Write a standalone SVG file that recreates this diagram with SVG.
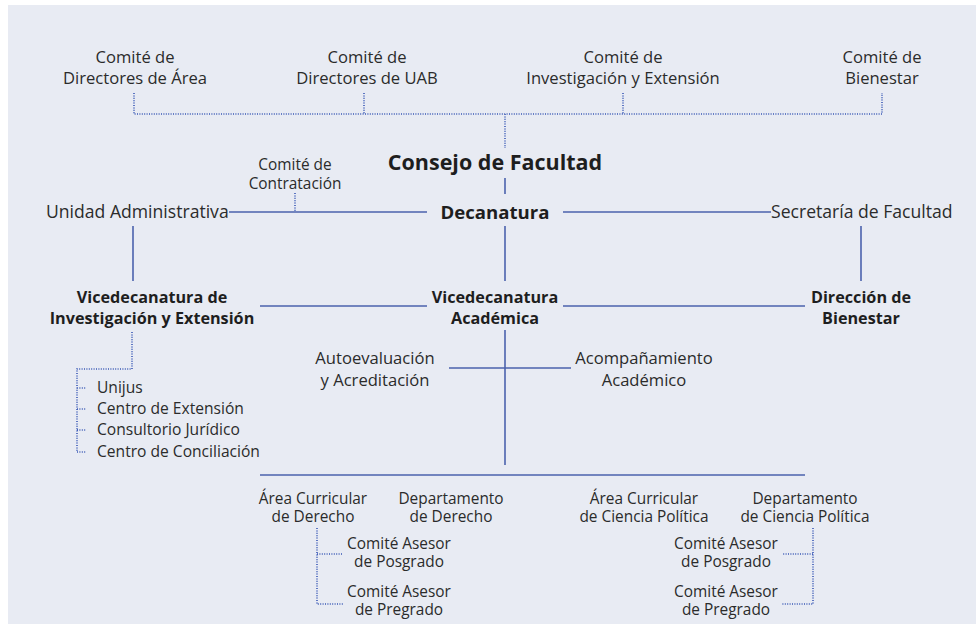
<svg xmlns="http://www.w3.org/2000/svg" width="976" height="624" viewBox="0 0 976 624">
<style>
.t{font-family:"Open Sans","Noto Sans","DejaVu Sans",sans-serif;font-size:16.6px;fill:#2b2b2b;}
.s{font-size:15.4px;}
.b{font-family:"Open Sans","Noto Sans","DejaVu Sans",sans-serif;font-weight:bold;font-size:16.2px;fill:#1e1e1e;}
.bb{font-size:21.5px;}
.c{text-anchor:middle;}
.ln{stroke:#4b63ad;stroke-width:1.6;fill:none;}
.dt{stroke:#3a59b6;stroke-width:1.6;stroke-dasharray:1 1.4;fill:none;}
</style>
<rect x="0" y="0" width="976" height="624" fill="#ffffff"/>
<rect x="8" y="5" width="968" height="619" fill="#e8ebf3"/>
<g id="connectors">
<path class="dt" d="M134 93V114H882V93M364 93V114M623 93V114M505 114V148"/>
<path class="ln" d="M505 178V194M505 226V281M229 212H427M563 212H771M133 226V281M861 226V281M260 306H427M563 306H805M505 330V465M449 368H571M260 475H805"/>
<path class="dt" d="M295 193V212"/>
<path class="dt" d="M132 332V369H77V452M77 388H86M77 409H86M77 430H86M77 452H86"/>
<path class="dt" d="M317 528V604H343M317 554H343"/>
<path class="dt" d="M813 528V604H782M813 554H782"/>
</g>
<g id="comite-directores-area"><text class="t c" x="135" y="63"><tspan x="135">Comité de</tspan><tspan x="135" dy="21">Directores de Área</tspan></text></g>
<g id="comite-directores-uab"><text class="t c" x="367" y="63"><tspan x="367">Comité de</tspan><tspan x="367" dy="21">Directores de UAB</tspan></text></g>
<g id="comite-investigacion"><text class="t c" x="623" y="63"><tspan x="623">Comité de</tspan><tspan x="623" dy="21">Investigación y Extensión</tspan></text></g>
<g id="comite-bienestar"><text class="t c" x="882" y="63"><tspan x="882">Comité de</tspan><tspan x="882" dy="21">Bienestar</tspan></text></g>
<g id="consejo"><text class="b bb c" x="495" y="170">Consejo de Facultad</text></g>
<g id="comite-contratacion"><text class="t s c" x="295" y="170"><tspan x="295">Comité de</tspan><tspan x="295" dy="19">Contratación</tspan></text></g>
<g id="unidad-administrativa"><text class="t" x="46" y="218" style="font-size:17.6px">Unidad Administrativa</text></g>
<g id="decanatura"><text class="b c" x="495" y="219" style="font-size:18.6px">Decanatura</text></g>
<g id="secretaria"><text class="t" x="771" y="218" style="font-size:17.6px">Secretaría de Facultad</text></g>
<g id="vice-investigacion"><text class="b c" x="152" y="303"><tspan x="152">Vicedecanatura de</tspan><tspan x="152" dy="21">Investigación y Extensión</tspan></text></g>
<g id="vice-academica"><text class="b c" x="495" y="303"><tspan x="495">Vicedecanatura</tspan><tspan x="495" dy="21">Académica</tspan></text></g>
<g id="direccion-bienestar"><text class="b c" x="861" y="303"><tspan x="861">Dirección de</tspan><tspan x="861" dy="21">Bienestar</tspan></text></g>
<g id="unijus"><text class="t" x="97" y="393" style="font-size:15.6px">Unijus</text></g>
<g id="centro-extension"><text class="t" x="97" y="414" style="font-size:15.6px">Centro de Extensión</text></g>
<g id="consultorio"><text class="t" x="97" y="435" style="font-size:15.6px">Consultorio Jurídico</text></g>
<g id="centro-conciliacion"><text class="t" x="97" y="457" style="font-size:15.6px">Centro de Conciliación</text></g>
<g id="autoevaluacion"><text class="t c" x="375" y="364"><tspan x="375">Autoevaluación</tspan><tspan x="375" dy="22">y Acreditación</tspan></text></g>
<g id="acompanamiento"><text class="t c" x="644" y="364"><tspan x="644">Acompañamiento</tspan><tspan x="644" dy="22">Académico</tspan></text></g>
<g id="area-derecho"><text class="t s c" x="313" y="504"><tspan x="313">Área Curricular</tspan><tspan x="313" dy="18">de Derecho</tspan></text></g>
<g id="depto-derecho"><text class="t s c" x="451" y="504"><tspan x="451">Departamento</tspan><tspan x="451" dy="18">de Derecho</tspan></text></g>
<g id="area-ciencia"><text class="t s c" x="644" y="504"><tspan x="644">Área Curricular</tspan><tspan x="644" dy="18">de Ciencia Política</tspan></text></g>
<g id="depto-ciencia"><text class="t s c" x="805" y="504"><tspan x="805">Departamento</tspan><tspan x="805" dy="18">de Ciencia Política</tspan></text></g>
<g id="posgrado-derecho"><text class="t s c" x="399" y="549"><tspan x="399">Comité Asesor</tspan><tspan x="399" dy="18">de Posgrado</tspan></text></g>
<g id="pregrado-derecho"><text class="t s c" x="399" y="597"><tspan x="399">Comité Asesor</tspan><tspan x="399" dy="18">de Pregrado</tspan></text></g>
<g id="posgrado-ciencia"><text class="t s c" x="726" y="549"><tspan x="726">Comité Asesor</tspan><tspan x="726" dy="18">de Posgrado</tspan></text></g>
<g id="pregrado-ciencia"><text class="t s c" x="726" y="597"><tspan x="726">Comité Asesor</tspan><tspan x="726" dy="18">de Pregrado</tspan></text></g>
</svg>
